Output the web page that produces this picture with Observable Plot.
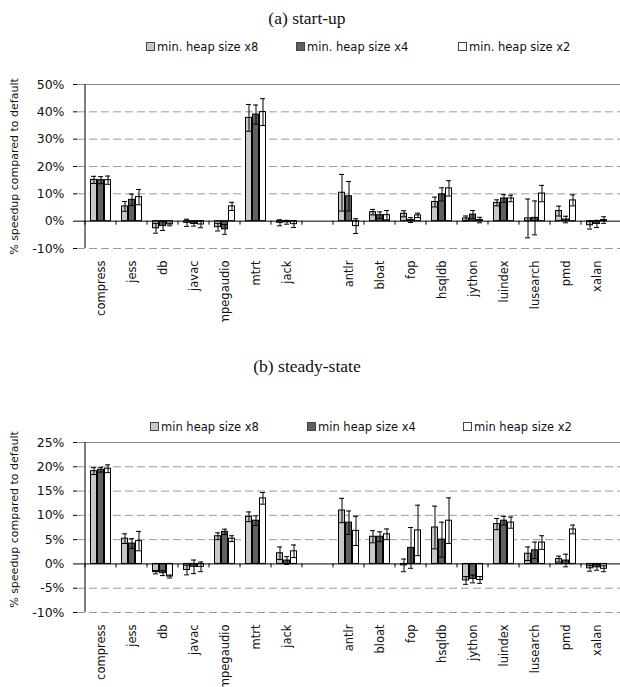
<!DOCTYPE html>
<html>
<head>
<meta charset="utf-8">
<script src="https://cdn.jsdelivr.net/npm/d3@7"></script>
<script src="https://cdn.jsdelivr.net/npm/@observablehq/plot@0.6"></script>
<style>
  html, body { margin: 0; padding: 0; background: #fff; }
  #page { position: relative; width: 620px; height: 687px; overflow: hidden; background: #fff; }
  .title { position: absolute; left: 0; width: 614px; text-align: center; font-family: "Liberation Serif", "Times New Roman", serif; font-size: 17.5px; color: #111; line-height: 22px; z-index: 2; }
  .legend { position: absolute; left: 0; width: 620px; height: 16px; font-family: "DejaVu Sans", Verdana, sans-serif; font-size: 11.5px; color: #111; z-index: 2; }
  .legend span.item { position: absolute; top: 0; white-space: nowrap; line-height: 16px; }
  .legend i { display: inline-block; width: 7px; height: 7px; border: 1px solid #444; margin-right: 2px; vertical-align: 0px; }
  .chart { position: absolute; left: 0; z-index: 1; }
</style>
</head>
<body>
<div id="page">
  <div class="title" id="titleA" style="top:7px"></div>
  <div class="legend" id="legendA" style="top:39px"></div>
  <div class="chart" id="chartA" style="top:60px"></div>
  <div class="title" id="titleB" style="top:355px"></div>
  <div class="legend" id="legendB" style="top:419px"></div>
  <div class="chart" id="chartB" style="top:400px"></div>
</div>
<script>
// ---------- data ----------
const categories = ["compress","jess","db","javac","mpegaudio","mtrt","jack"," ","antlr","bloat","fop","hsqldb","jython","luindex","lusearch","pmd","xalan"];

// (a) start-up : % speedup compared to default
const startX8 = [15.1, 5.4, -2.6, -0.6, -2.2, 37.8, -0.6, null, 10.4, 3.3, 2.7, 7.0, 1.0, 6.7, 1.0, 3.7, -1.5];
const startX4 = [15.0, 7.8, -1.8, -1.0, -3.0, 39.0, -0.4, null, 9.1, 2.2, 0.4, 9.8, 2.4, 8.3, 1.2, 0.6, -1.0];
const startX2 = [15.0, 8.8, -1.2, -1.2, 5.4, 39.9, -1.1, null, -1.8, 2.2, 2.1, 12.0, 0.4, 8.3, 10.1, 7.6, 0.4];
const startErrX8 = [1.3, 1.8, 1.8, 1.3, 1.4, 4.9, 1.1, null, 6.7, 1.0, 1.1, 1.8, 0.9, 1.1, 7.1, 1.8, 1.4];
const startErrX4 = [1.3, 2.1, 1.6, 0.8, 1.8, 3.5, 0.7, null, 5.4, 1.2, 0.9, 2.4, 1.5, 1.4, 6.2, 1.2, 1.3];
const startErrX2 = [1.5, 2.8, 0.5, 1.2, 1.5, 4.9, 1.2, null, 2.7, 1.7, 0.8, 2.8, 1.0, 1.2, 3.0, 2.0, 1.2];

// (b) steady-state : % speedup compared to default
const steadyX8 = [19.1, 5.2, -1.7, -1.25, 5.7, 9.7, 2.2, null, 11.0, 5.6, -0.3, 7.5, -3.4, 8.2, 2.1, 1.0, -0.9];
const steadyX4 = [19.4, 4.2, -1.9, -0.6, 6.6, 8.9, 0.7, null, 8.5, 5.6, 3.3, 5.0, -3.1, 8.9, 2.8, 0.7, -0.7];
const steadyX2 = [19.6, 4.7, -2.6, -0.6, 5.2, 13.5, 2.6, null, 6.8, 6.1, 6.9, 8.9, -3.3, 8.5, 4.4, 7.1, -1.0];
const steadyErrX8 = [0.7, 1.0, 0.35, 1.0, 0.7, 1.0, 1.3, null, 2.5, 1.25, 1.3, 4.4, 0.8, 1.15, 1.4, 0.6, 0.6];
const steadyErrX4 = [0.5, 1.0, 0.5, 1.4, 0.55, 1.0, 0.8, null, 2.4, 1.0, 4.2, 3.6, 0.8, 0.9, 1.7, 1.3, 0.6];
const steadyErrX2 = [0.8, 2.0, 0.3, 1.0, 0.6, 1.2, 1.3, null, 3.0, 1.1, 5.2, 4.7, 0.7, 1.15, 1.4, 0.9, 0.6];

const startTicks = [-10, 0, 10, 20, 30, 40, 50];
const steadyTicks = [-10, -5, 0, 5, 10, 15, 20, 25];

const titleA = "(a) start-up";
const titleB = "(b) steady-state";
const legendA = ["min. heap size x8", "min. heap size x4", "min. heap size x2"];
const legendB = ["min heap size x8", "min heap size x4", "min heap size x2"];
const yLabel = "% speedup compared to default";

// ---------- styles ----------
const seriesStyle = [
  {fill: "#c8c8c8", dx: -7, inL: 5.5, inR: 19.5},
  {fill: "#606060", dx: 0, inL: 12.5, inR: 12.5},
  {fill: "#ffffff", dx: 7, inL: 19.5, inR: 5.5}
];

function buildRows(vals, errs) {
  const rows = [];
  vals.forEach((arr, s) => {
    categories.forEach((c, i) => {
      if (arr[i] == null) return;
      rows.push({cat: c, s, v: arr[i], e: errs[s][i]});
    });
  });
  return rows;
}

function makeChart(rows, ticks, height, marginTop, marginBottom, labelDy) {
  const top = ticks[ticks.length - 1];
  const bottom = ticks[0];
  const marks = [
    Plot.gridY(ticks.filter(t => t !== 0 && t !== top), {stroke: "#9a9a9a", strokeOpacity: 1, strokeDasharray: "8,4"}),
    Plot.ruleY([top], {stroke: "#8a8a8a"}),
    Plot.axisY(ticks, {tickFormat: d => d + "%", tickSize: 4, tickPadding: 9, stroke: "#000", fontSize: 12.5, fill: "#111"}),
    Plot.axisX({anchor: "bottom", tickSize: 0, tickPadding: 12, tickRotate: -90, fontSize: 11.5, fill: "#111", label: null}),
    Plot.text([yLabel], {text: d => d, frameAnchor: "left", textAnchor: "middle", dx: -63, dy: labelDy, rotate: -90, fontSize: 11, fill: "#111"})
  ];
  seriesStyle.forEach((st, s) => {
    const data = rows.filter(d => d.s === s);
    marks.push(Plot.barY(data, {x: "cat", y: "v", fill: st.fill, stroke: "#000", strokeWidth: 1, insetLeft: st.inL, insetRight: st.inR}));
  });
  seriesStyle.forEach((st, s) => {
    const data = rows.filter(d => d.s === s);
    marks.push(Plot.ruleX(data, {x: "cat", y1: d => d.v - d.e, y2: d => d.v + d.e, dx: st.dx, stroke: "#000", strokeWidth: 1}));
    marks.push(Plot.tickY(data, {x: "cat", y: d => d.v + d.e, dx: st.dx, insetLeft: 13, insetRight: 13, stroke: "#000", strokeWidth: 1}));
    marks.push(Plot.tickY(data, {x: "cat", y: d => d.v - d.e, dx: st.dx, insetLeft: 13, insetRight: 13, stroke: "#000", strokeWidth: 1}));
  });
  marks.push(Plot.ruleY([0], {stroke: "#000", strokeWidth: 1}));
  marks.push(Plot.ruleX(categories, {x: d => d, y1: 0, y2: 0, insetBottom: -4, dx: -16, stroke: "#000"}));
  marks.push(Plot.ruleX([categories[0]], {x: d => d, dx: -16, stroke: "#000", strokeWidth: 1}));
  return Plot.plot({
    width: 620, height, marginLeft: 77, marginRight: 0, marginTop, marginBottom,
    style: {fontFamily: "'DejaVu Sans', Verdana, sans-serif", fontSize: "11.5px", background: "none", color: "#111", overflow: "hidden"},
    x: {type: "band", domain: categories, padding: 0, label: null},
    y: {domain: [bottom, top], label: null},
    marks
  });
}

function makeLegend(el, labels, lefts) {
  labels.forEach((lab, s) => {
    const sp = document.createElement("span");
    sp.className = "item";
    sp.style.left = lefts[s] + "px";
    const sq = document.createElement("i");
    sq.style.background = seriesStyle[s].fill;
    sp.appendChild(sq);
    sp.appendChild(document.createTextNode(lab));
    el.appendChild(sp);
  });
}

document.getElementById("titleA").textContent = titleA;
document.getElementById("titleB").textContent = titleB;
makeLegend(document.getElementById("legendA"), legendA, [146, 296, 458]);
makeLegend(document.getElementById("legendB"), legendB, [150, 307, 463]);

const rowsA = buildRows([startX8, startX4, startX2], [startErrX8, startErrX4, startErrX2]);
const rowsB = buildRows([steadyX8, steadyX4, steadyX2], [steadyErrX8, steadyErrX4, steadyErrX2]);
document.getElementById("chartA").appendChild(makeChart(rowsA, startTicks, 262, 24, 74, 0));
document.getElementById("chartB").appendChild(makeChart(rowsB, steadyTicks, 287, 42, 75, -8));
</script>
</body>
</html>
